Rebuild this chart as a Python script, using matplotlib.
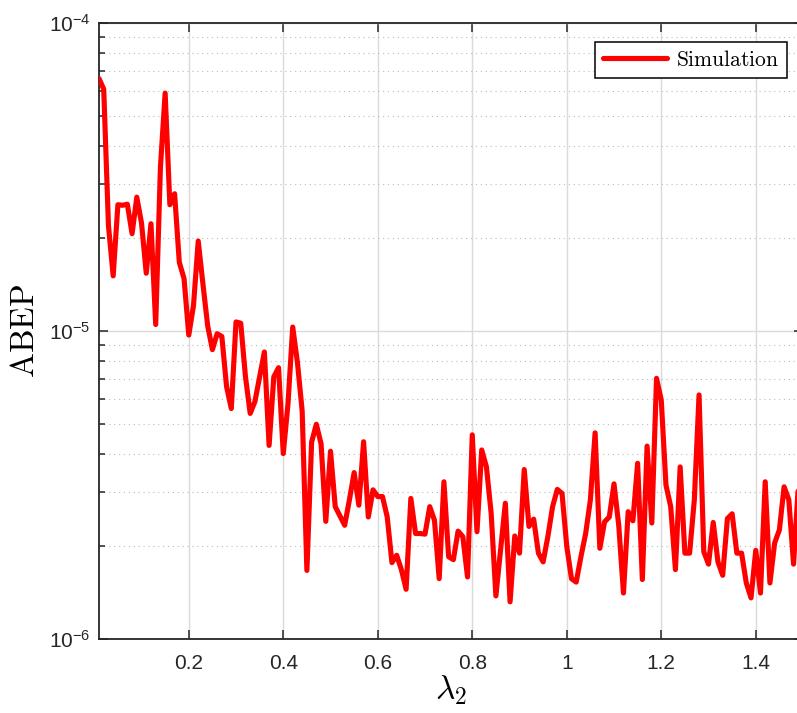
import numpy as np
import matplotlib
matplotlib.use("Agg")
import matplotlib.pyplot as plt
from matplotlib.ticker import LogLocator, LogFormatterMathtext, NullFormatter, FixedLocator

# lambda_2 sweep and simulated average bit error probability
lam2 = np.round(np.arange(1, 151) * 0.01, 2)
abep = [
    6.6e-5, 6.1e-5, 2.2e-5, 1.51e-5, 2.57e-5, 2.56e-5, 2.58e-5, 2.07e-5, 2.72e-5, 2.24e-5,
    1.54e-5, 2.23e-5, 1.05e-5, 3.4e-5, 5.92e-5, 2.57e-5, 2.79e-5, 1.67e-5, 1.48e-5, 9.7e-6,
    1.21e-5, 1.96e-5, 1.42e-5, 1.04e-5, 8.7e-6, 9.8e-6, 9.6e-6, 6.6e-6, 5.6e-6, 1.07e-5,
    1.06e-5, 7.1e-6, 5.4e-6, 5.9e-6, 7.1e-6, 8.55e-6, 4.25e-6, 7.1e-6, 7.6e-6, 4.0e-6,
    5.8e-6, 1.03e-5, 7.9e-6, 5.5e-6, 1.67e-6, 4.36e-6, 4.98e-6, 4.3e-6, 2.41e-6, 4.07e-6,
    2.69e-6, 2.51e-6, 2.34e-6, 2.83e-6, 3.47e-6, 2.72e-6, 4.37e-6, 2.49e-6, 3.05e-6, 2.9e-6,
    2.9e-6, 2.49e-6, 1.77e-6, 1.87e-6, 1.68e-6, 1.45e-6, 2.86e-6, 2.2e-6, 2.2e-6, 2.19e-6,
    2.69e-6, 2.43e-6, 1.57e-6, 3.24e-6, 1.85e-6, 1.81e-6, 2.24e-6, 2.15e-6, 1.59e-6, 4.6e-6,
    2.23e-6, 4.11e-6, 3.62e-6, 2.56e-6, 1.38e-6, 1.95e-6, 2.76e-6, 1.32e-6, 2.16e-6, 1.9e-6,
    3.55e-6, 2.32e-6, 2.45e-6, 1.9e-6, 1.78e-6, 2.15e-6, 2.69e-6, 3.06e-6, 2.97e-6, 2.0e-6,
    1.57e-6, 1.53e-6, 1.85e-6, 2.2e-6, 2.83e-6, 4.67e-6, 1.97e-6, 2.4e-6, 2.49e-6, 3.19e-6,
    2.34e-6, 1.41e-6, 2.59e-6, 2.42e-6, 3.72e-6, 1.56e-6, 4.23e-6, 2.38e-6, 7.02e-6, 5.97e-6,
    3.16e-6, 2.69e-6, 1.68e-6, 3.62e-6, 1.9e-6, 1.9e-6, 2.83e-6, 6.2e-6, 1.92e-6, 1.75e-6,
    2.39e-6, 1.78e-6, 1.61e-6, 2.46e-6, 2.55e-6, 1.9e-6, 1.9e-6, 1.52e-6, 1.36e-6, 1.94e-6,
    1.41e-6, 3.24e-6, 1.52e-6, 2.05e-6, 2.26e-6, 3.12e-6, 2.83e-6, 1.75e-6, 3.12e-6, 2.7e-6,
]

xticks = [0.2, 0.4, 0.6, 0.8, 1.0, 1.2, 1.4]
xticklabels = ["0.2", "0.4", "0.6", "0.8", "1", "1.2", "1.4"]
series_label = "Simulation"

plt.rcParams["font.family"] = ["Liberation Sans", "DejaVu Sans"]
plt.rcParams["mathtext.fontset"] = "custom"
plt.rcParams["mathtext.rm"] = "Liberation Sans"
plt.rcParams["mathtext.it"] = "Liberation Sans:italic"
plt.rcParams["mathtext.bf"] = "Liberation Sans:bold"

axis_col = "#262626"

fig = plt.figure(figsize=(7.97, 7.13), dpi=100)
ax = fig.add_axes([99 / 797, 74 / 713, 704 / 797, 616 / 713])

ax.semilogy(lam2, abep, color="#ff0000", lw=3.7, solid_joinstyle="round",
            solid_capstyle="round", label=r"$\mathrm{%s}$" % series_label, zorder=3)

ax.set_xlim(0.01, 1.5)
ax.set_ylim(1e-6, 1e-4)

ax.xaxis.set_major_locator(FixedLocator(xticks))
ax.set_xticklabels(xticklabels)
ax.yaxis.set_major_locator(LogLocator(base=10, numticks=10))
ax.yaxis.set_major_formatter(LogFormatterMathtext())
ax.yaxis.set_minor_locator(LogLocator(base=10, subs=np.arange(2, 10), numticks=20))
ax.yaxis.set_minor_formatter(NullFormatter())

# grid: solid major lines, dotted minor lines on the log axis
ax.grid(True, which="major", axis="both", color="#dadada", lw=1.0, ls="-", zorder=0)
ax.grid(True, which="minor", axis="y", color="#bcbcbc", lw=0.8, ls=(0, (1, 3.4)), zorder=0)
ax.set_axisbelow(True)

for sp in ax.spines.values():
    sp.set_color(axis_col)
    sp.set_linewidth(1.3)

ax.tick_params(which="both", direction="in", top=True, right=True, colors=axis_col,
               width=1.1)
ax.tick_params(which="major", length=6.5, labelsize=15, labelcolor=axis_col)
ax.tick_params(axis="x", which="major", pad=11)
ax.tick_params(axis="y", which="major", pad=6)
ax.tick_params(which="minor", length=4)

ax.set_xlabel(r"$\lambda_2$", fontsize=24, math_fontfamily="cm", labelpad=0,
              color="#000000")
ax.set_ylabel(r"$\mathrm{ABEP}$", fontsize=24, math_fontfamily="cm", labelpad=6,
              color="#000000")

leg = ax.legend(loc="upper right", bbox_to_anchor=(0.977, 0.969), borderaxespad=0,
                fontsize=15.5, frameon=True, fancybox=False, handlelength=3.0,
                handletextpad=0.4, borderpad=0.35, framealpha=1)
leg.get_frame().set_edgecolor("#000000")
leg.get_frame().set_linewidth(1.1)
for t in leg.get_texts():
    t.set_math_fontfamily("cm")

fig.savefig("out.png", dpi=100)
